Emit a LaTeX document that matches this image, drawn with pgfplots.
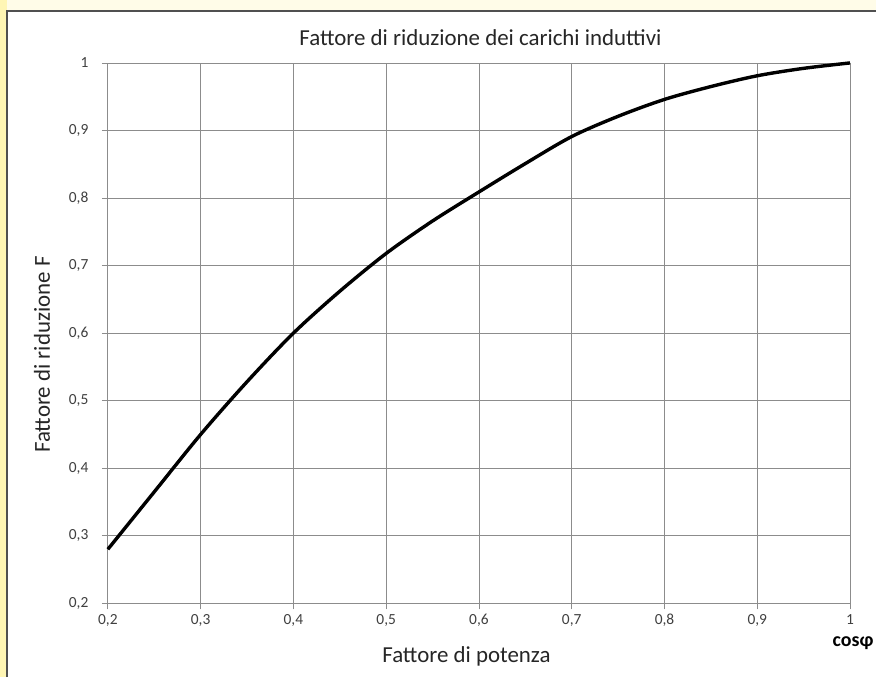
\documentclass[border=0pt]{standalone}
\usepackage{pgfplots}
\pgfplotsset{compat=1.18}
\usepackage{fontspec}
\setmainfont{Carlito}
\definecolor{strip}{HTML}{FFF6B4}
\definecolor{cream}{HTML}{FFFCE8}
\definecolor{bord}{HTML}{505050}
\definecolor{gridc}{HTML}{8C8C8C}
\definecolor{tickc}{HTML}{404040}
\begin{document}
\begin{tikzpicture}
\fill[cream] (0bp,0bp) rectangle (877bp,678bp);
\fill[strip] (0bp,0bp) rectangle (7bp,678bp);
\fill[white] (7bp,0bp) rectangle (877bp,667bp);
\draw[bord,line width=2bp] (7bp,0bp) -- (7bp,667bp) -- (877bp,667bp);
\begin{axis}[
  at={(108bp,74bp)}, anchor=south west,
  scale only axis, width=743bp, height=541bp,
  xmin=0.2, xmax=1, ymin=0.2, ymax=1,
  xtick={0.2,0.3,...,1.0}, ytick={0.2,0.3,...,1.0},
  grid=major,
  grid style={gridc, line width=0.8bp},
  axis line style={gridc, line width=0.8bp},
  tick style={gridc, line width=0.8bp},
  major tick length=6bp,
  tick align=outside,
  xtick pos=bottom, ytick pos=left,
  tick label style={font=\fontsize{15.5}{18}\selectfont, text=tickc},
  /pgf/number format/use comma,
  /pgf/number format/assume math mode=true,
  xticklabel style={text height=11bp, text depth=3bp, yshift=-1bp},
  yticklabel style={xshift=-10bp},
  clip=false,
]
\addplot[black, line width=3.4bp, smooth, tension=0.5] coordinates {
(0.20,0.280) (0.25,0.365) (0.30,0.450) (0.35,0.528) (0.40,0.600)
(0.45,0.662) (0.50,0.718) (0.55,0.766) (0.60,0.809) (0.65,0.851)
(0.70,0.891) (0.75,0.921) (0.80,0.946) (0.85,0.965) (0.90,0.981)
(0.95,0.992) (1.00,1.000)
};
\end{axis}
\node[font=\fontsize{23}{26}\selectfont, text=black!85] at (481bp,640bp) {Fattore di riduzione dei carichi induttivi};
\node[font=\fontsize{23}{26}\selectfont, text=black!85] at (467bp,21bp) {Fattore di potenza};
\node[font=\fontsize{23}{26}\selectfont, text=black!85, rotate=90] at (42bp,323bp) {Fattore di riduzione F};
\node[font=\bfseries\fontsize{20}{22}\selectfont] at (854bp,34bp) {cosφ};
\end{tikzpicture}
\end{document}
